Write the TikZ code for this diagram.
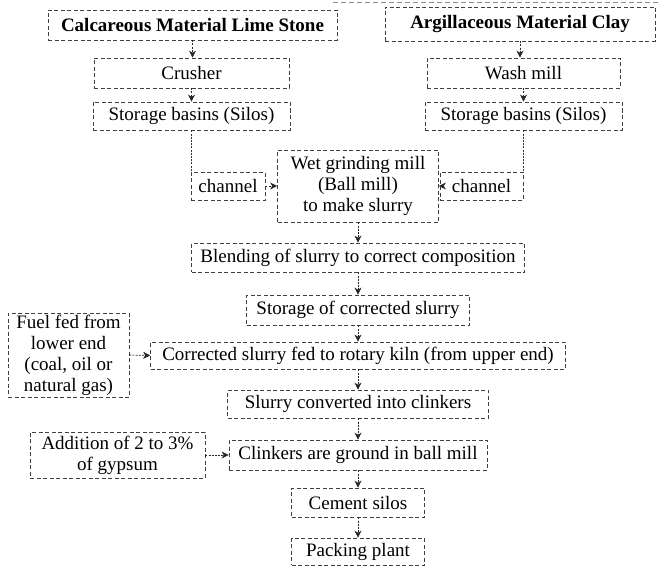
\documentclass[tikz,border=0pt]{standalone}
\usepackage{fontspec}
\setmainfont{Liberation Serif}
\usetikzlibrary{arrows.meta}
\begin{document}
\begin{tikzpicture}[x=1pt,y=-1pt,
  box/.style={draw=black!75, line width=0.6pt, dash pattern=on 4pt off 2.5pt,
    inner sep=0pt, align=center, font=\fontsize{19}{21}\selectfont},
  boldbox/.style={box, font=\bfseries\fontsize{19}{21}\selectfont},
  conn/.style={draw=black!85, line width=0.7pt, dash pattern=on 2pt off 1.2pt,
    -{Stealth[length=7pt,width=7pt,inset=2pt]}},
  link/.style={draw=black!80, line width=0.6pt, dash pattern=on 2pt off 1.2pt},
  frame/.style={draw=black!45, line width=0.5pt, dash pattern=on 5pt off 3pt}]
\useasboundingbox (0,0) rectangle (658,567);
% top row
\node[boldbox, minimum width=289pt, minimum height=30pt] (calc) at (192.5,25) {Calcareous Material Lime Stone};
\node[boldbox, minimum width=270pt, minimum height=34pt] (argil) at (520,24) {Argillaceous Material Clay};
\coordinate (fa) at (333,2);
\coordinate (fb) at (658,2);
\draw[frame] (fa) -- (fb);
% left column
\node[box, minimum width=195pt, minimum height=30pt] (crusher) at (191.5,73) {Crusher};
\node[box, minimum width=197pt, minimum height=28pt] (storL) at (191.5,116) {Storage basins (Silos)};
% right column
\node[box, minimum width=193pt, minimum height=30pt] (wash) at (523.5,73) {Wash mill};
\node[box, minimum width=197pt, minimum height=28pt] (storR) at (523.5,116) {Storage basins (Silos)};
% channels and wet grinding
\node[box, minimum width=74pt, minimum height=28pt] (chanL) at (228,186) {channel};
\node[box, minimum width=83pt, minimum height=28pt] (chanR) at (481.5,186) {channel};
\node[box, minimum width=161pt, minimum height=72pt] (wet) at (358,186) {Wet grinding mill\\(Ball mill)\\to make slurry};
% spine
\node[box, minimum width=333pt, minimum height=29pt] (blend) at (358,257.5) {Blending of slurry to correct composition};
\node[box, minimum width=223pt, minimum height=30pt] (storC) at (358,310) {Storage of corrected slurry};
\node[box, minimum width=415pt, minimum height=27pt] (kiln) at (358,355.5) {Corrected slurry fed to rotary kiln (from upper end)};
\node[box, minimum width=121pt, minimum height=84pt] (fuel) at (68.5,355) {Fuel fed from\\lower end\\(coal, oil or\\natural gas)};
\node[box, minimum width=261pt, minimum height=28pt] (conv) at (358,404) {Slurry converted into clinkers};
\node[box, minimum width=258pt, minimum height=30pt] (clink) at (358,455) {Clinkers are ground in ball mill};
\node[box, minimum width=175pt, minimum height=46pt] (add) at (117.5,455) {Addition of 2 to 3\%\\of gypsum};
\node[box, minimum width=133pt, minimum height=29pt] (silo) at (358,502.5) {Cement silos};
\node[box, minimum width=133pt, minimum height=27pt] (pack) at (358,551.5) {Packing plant};
% connectors
\draw[conn] (calc.south) -- (calc.south |- crusher.north);
\draw[conn] (crusher.south) -- (storL.north);
\draw[conn] (argil.south) -- (argil.south |- wash.north);
\draw[conn] (wash.south) -- (storR.north);
\draw[link] (storL.south) -- (storL.south |- chanL.north);
\draw[link] (storR.south) -- (storR.south |- chanR.north);
\draw[conn] (chanL.east) -- (wet.west);
\draw[conn] (chanR.west) -- (wet.east);
\draw[conn] (wet.south) -- (blend.north);
\draw[conn] (blend.south) -- (storC.north);
\draw[conn] (storC.south) -- (kiln.north);
\draw[conn] (fuel.east) -- (kiln.west);
\draw[conn] (kiln.south) -- (conv.north);
\draw[conn] (conv.south) -- (clink.north);
\draw[conn] (add.east) -- (clink.west);
\draw[conn] (clink.south) -- (silo.north);
\draw[conn] (silo.south) -- (pack.north);
\end{tikzpicture}
\end{document}
